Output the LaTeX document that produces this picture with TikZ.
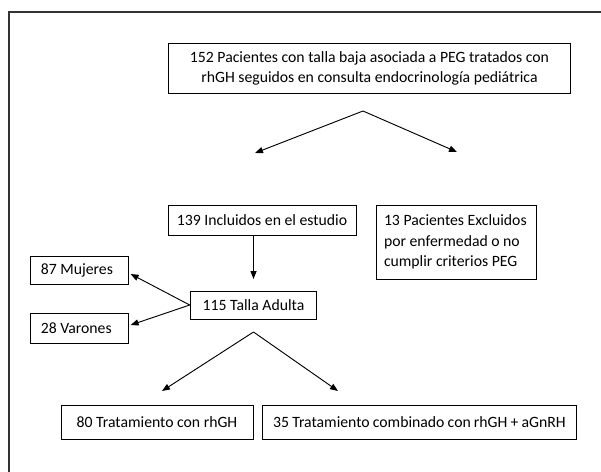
\documentclass[tikz,border=0pt]{standalone}
\usepackage{fontspec}
\setmainfont{Carlito}
\usetikzlibrary{arrows.meta}

\begin{document}
\begin{tikzpicture}[x=0.75pt,y=-0.75pt,
  box/.style={draw,line width=0.7pt,inner sep=0pt,font=\fontsize{11.8}{15.5}\selectfont},
  lbox/.style={box,inner xsep=#1,align=flush left},
  arr/.style={line width=0.7pt,-{Triangle[length=6pt,width=4.6pt]}}]
\useasboundingbox (0,0) rectangle (601,472);
\draw[line width=1pt,black!80] (9,490) -- (9,12) -- (620,12);
\node[box,minimum width=302pt,minimum height=38pt,align=center] (pac) at (369.5,68.5) {152 Pacientes con talla baja asociada a PEG tratados con\\rhGH seguidos en consulta endocrinología pediátrica};
\node[box,minimum width=141pt,minimum height=23pt] (incl) at (262,220.5) {139 Incluidos en el estudio};
\node[lbox=6pt,text width=108pt,minimum height=55.5pt] (excl) at (456,242) {13 Pacientes Excluidos\\por enfermedad o no\\cumplir criterios PEG};
\node[box,minimum width=95pt,minimum height=21pt] (talla) at (253.5,305) {115 Talla Adulta};
\node[lbox=7.5pt,text width=58pt,minimum height=21pt] (muj) at (79.5,270) {87 Mujeres};
\node[lbox=7.5pt,text width=58pt,minimum height=23pt] (var) at (79.5,328.5) {28 Varones};
\node[box,minimum width=144pt,minimum height=25.5pt] (trat) at (157,422) {80 Tratamiento con rhGH};
\node[lbox=8.25pt,text width=219.5pt,minimum height=25.5pt] (comb) at (419.5,422) {35 Tratamiento combinado con rhGH + aGnRH};
\coordinate (s1) at (363,111);
\coordinate (s1l) at (255,153);
\coordinate (s1r) at (457,152);
\coordinate (v) at (253.5,279);
\coordinate (s2) at (253.5,332);
\coordinate (s2l) at (162,391);
\coordinate (s2r) at (338,391);
\draw[arr] (s1) -- (s1l);
\draw[arr] (s1) -- (s1r);
\draw[arr] (incl.south -| talla) -- (v);
\draw[arr] (talla.west) -- ([xshift=1.5pt,yshift=-3pt]muj.east);
\draw[arr] (talla.west) -- ([xshift=1.5pt,yshift=2.6pt]var.east);
\draw[arr] (s2) -- (s2l);
\draw[arr] (s2) -- (s2r);
\end{tikzpicture}
\end{document}
